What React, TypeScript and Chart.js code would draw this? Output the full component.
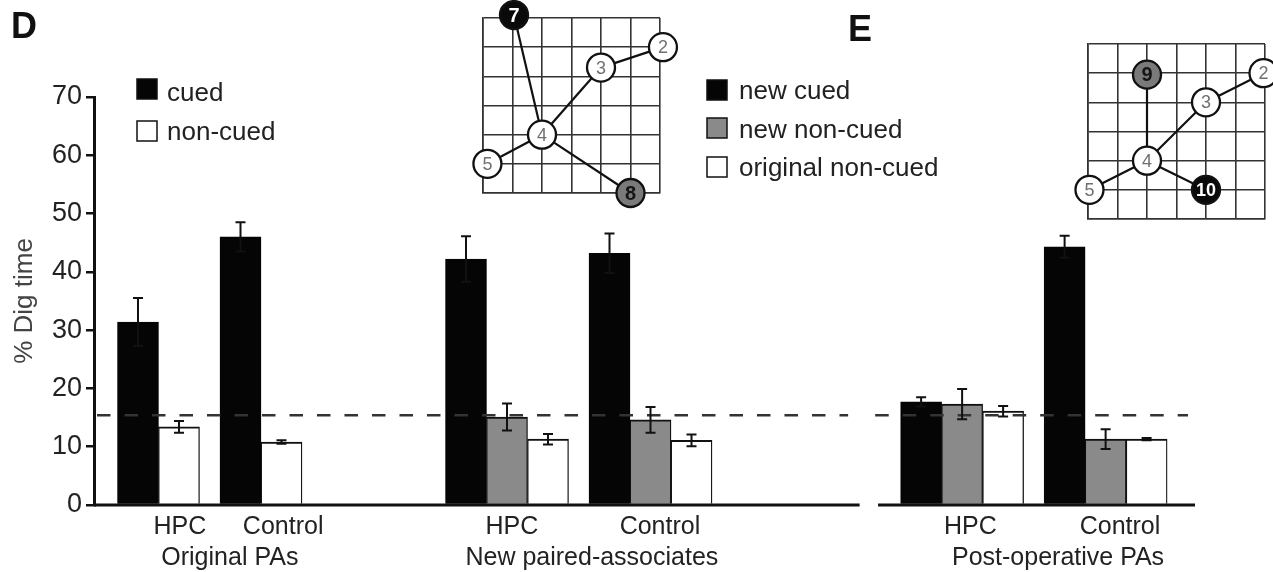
import React, { useEffect, useRef } from "react";
import { Chart, registerables } from "chart.js";
Chart.register(...registerables);

const FONT = "'Liberation Sans', Arial, Helvetica, sans-serif";

// ---------------- data ----------------
const phases = ["Original PAs", "New paired-associates", "Post-operative PAs"];
const groups = ["HPC", "Control", "HPC", "Control", "HPC", "Control"];
const cued = [31.4, 46.0, 42.2, 43.2, 17.7, 44.3];
const cuedErr = [4.1, 2.5, 3.9, 3.4, 0.8, 1.9];
const newNonCued: (number | null)[] = [null, null, 15.1, 14.6, 17.3, 11.3];
const newNonCuedErr: (number | null)[] = [null, null, 2.3, 2.2, 2.6, 1.7];
const origNonCued = [13.4, 10.8, 11.3, 11.1, 16.1, 11.3];
const origNonCuedErr = [1.0, 0.3, 0.9, 1.0, 0.9, 0.2];
const chanceLevel = 15.4;
const yTicks = [0, 10, 20, 30, 40, 50, 60, 70];
const yTitle = "% Dig time";
const legendD = ["cued", "non-cued"];
const legendE = ["new cued", "new non-cued", "original non-cued"];
const panelLetters = ["D", "E"];

// diagrams (grid coordinates)
const diagDLabels = ["7", "2", "3", "4", "5", "8"];
const diagDX = [1.05, 6.1, 4.0, 2.0, 0.15, 5.0];
const diagDY = [6.1, 5.0, 4.3, 2.0, 1.0, 0.0];
const diagDKind = ["cued", "orig", "orig", "orig", "orig", "noncued"];
const diagDEdges = [[1, 2], [2, 3], [3, 4], [3, 0], [3, 5]];
const diagELabels = ["9", "2", "3", "4", "5", "10"];
const diagEX = [2.0, 5.95, 4.0, 2.0, 0.05, 4.0];
const diagEY = [4.95, 5.0, 4.0, 2.0, 1.0, 1.0];
const diagEKind = ["noncued", "orig", "orig", "orig", "orig", "cued"];
const diagEEdges = [[0, 3], [3, 2], [2, 1], [3, 4], [3, 5]];

// ---------------- layout (bar-width units / px) ----------------
const cuedSlot = [0, 2.5, 8, 11.5, 19.1, 22.6];
const groupLabelSlot = [1.02, 3.54, 9.12, 12.73, 20.3, 23.95];
const phaseLabelSlot = [2.24, 11.07, 22.44];
const X_MIN = -1.073;
const X_MAX = 25.78;
const panelAxis = [[X_MIN, 17.6], [18.05, X_MAX]];
const panelDash = [[-1.0, 17.32], [17.98, 25.61]];
const BAR_W = 41;
const COLORS = { cued: "#050505", noncued: "#8a8a8a", orig: "#ffffff" };
const TEXT = "#222";

const overlayPlugin = {
  id: "overlay",
  afterDatasetsDraw(chart: any) {
    const { ctx, scales } = chart;
    const x = scales.x;
    const y = scales.y;
    ctx.save();
    // chance line
    const yc = y.getPixelForValue(chanceLevel);
    ctx.strokeStyle = "#333";
    ctx.lineWidth = 2.5;
    ctx.setLineDash([13.5, 14]);
    for (const [a, b] of panelDash) {
      ctx.beginPath();
      ctx.moveTo(x.getPixelForValue(a), yc);
      ctx.lineTo(x.getPixelForValue(b), yc);
      ctx.stroke();
    }
    ctx.setLineDash([]);
    // error bars
    ctx.strokeStyle = "#111";
    ctx.lineWidth = 2;
    chart.data.datasets.forEach((ds: any, di: number) => {
      const meta = chart.getDatasetMeta(di);
      meta.data.forEach((el: any, k: number) => {
        const p = ds.data[k];
        const t = y.getPixelForValue(p.y + p.err);
        const b = y.getPixelForValue(p.y - p.err);
        ctx.beginPath();
        ctx.moveTo(el.x, t);
        ctx.lineTo(el.x, b);
        ctx.moveTo(el.x - 5, t);
        ctx.lineTo(el.x + 5, t);
        ctx.moveTo(el.x - 5, b);
        ctx.lineTo(el.x + 5, b);
        ctx.stroke();
      });
    });
    // baselines
    const y0 = y.getPixelForValue(0);
    ctx.lineWidth = 3;
    ctx.strokeStyle = "#111";
    for (const [a, b] of panelAxis) {
      ctx.beginPath();
      ctx.moveTo(x.getPixelForValue(a), y0);
      ctx.lineTo(x.getPixelForValue(b), y0);
      ctx.stroke();
    }
    ctx.restore();
  },
  afterDraw(chart: any) {
    const { ctx, scales } = chart;
    const x = scales.x;
    ctx.save();
    ctx.fillStyle = TEXT;
    ctx.textAlign = "center";
    ctx.textBaseline = "alphabetic";
    ctx.font = `25px ${FONT}`;
    groups.forEach((g, i) => ctx.fillText(g, x.getPixelForValue(groupLabelSlot[i]), 534));
    phases.forEach((p, i) => ctx.fillText(p, x.getPixelForValue(phaseLabelSlot[i]), 565));
    // panel letters
    ctx.textAlign = "left";
    ctx.font = `bold 36px ${FONT}`;
    ctx.fillStyle = "#111";
    ctx.fillText(panelLetters[0], 11, 38);
    ctx.fillText(panelLetters[1], 848, 41);
    // legends
    ctx.font = `26px ${FONT}`;
    const drawBox = (bx: number, by: number, fill: string) => {
      ctx.fillStyle = fill;
      ctx.fillRect(bx, by, 20, 20);
      ctx.strokeStyle = "#111";
      ctx.lineWidth = 1.5;
      ctx.strokeRect(bx, by, 20, 20);
    };
    const dFills = [COLORS.cued, COLORS.orig];
    const dBoxY = [79, 121];
    const dTextY = [101, 140];
    legendD.forEach((t, i) => {
      drawBox(137, dBoxY[i], dFills[i]);
      ctx.fillStyle = TEXT;
      ctx.fillText(t, 167, dTextY[i]);
    });
    const eFills = [COLORS.cued, COLORS.noncued, COLORS.orig];
    const eBoxY = [80, 118, 157];
    const eTextY = [99, 138, 176];
    legendE.forEach((t, i) => {
      drawBox(707, eBoxY[i], eFills[i]);
      ctx.fillStyle = TEXT;
      ctx.fillText(t, 739, eTextY[i]);
    });
    ctx.restore();
  },
};

function MainChart() {
  const ref = useRef<HTMLCanvasElement>(null);
  useEffect(() => {
    const common = {
      barThickness: BAR_W,
      grouped: false,
      borderWidth: { top: 2, left: 1.3, right: 1.3, bottom: 0 },
      borderSkipped: "start",
    };
    const chart = new Chart(ref.current as HTMLCanvasElement, {
      type: "bar",
      data: {
        datasets: [
          {
            ...common,
            label: legendE[0],
            data: cued.map((v, i) => ({ x: cuedSlot[i], y: v, err: cuedErr[i] })),
            backgroundColor: COLORS.cued,
            borderColor: COLORS.cued,
          },
          {
            ...common,
            label: legendE[1],
            data: newNonCued.flatMap((v, i) =>
              v == null ? [] : [{ x: cuedSlot[i] + 1, y: v, err: newNonCuedErr[i] }]
            ),
            backgroundColor: COLORS.noncued,
            borderColor: "#111",
          },
          {
            ...common,
            label: legendE[2],
            data: origNonCued.map((v, i) => ({
              x: cuedSlot[i] + (newNonCued[i] == null ? 1 : 2),
              y: v,
              err: origNonCuedErr[i],
            })),
            backgroundColor: COLORS.orig,
            borderColor: "#111",
          },
        ] as any,
      },
      options: {
        animation: false,
        responsive: false,
        events: [],
        layout: { autoPadding: false, padding: { left: 0, right: 78, top: 97, bottom: 67 } },
        plugins: { legend: { display: false }, tooltip: { enabled: false } },
        scales: {
          x: { type: "linear", min: X_MIN, max: X_MAX, display: false, offset: false },
          y: {
            min: 0,
            max: 70,
            afterBuildTicks: (s: any) => {
              s.ticks = yTicks.map((v) => ({ value: v }));
            },
            afterFit: (s: any) => {
              s.width = 94;
            },
            ticks: { font: { size: 27, family: FONT }, color: TEXT, padding: 4 },
            grid: {
              drawOnChartArea: false,
              drawTicks: true,
              tickLength: 8,
              color: "#111",
              lineWidth: 2.5,
            },
            border: { display: true, color: "#111", width: 3 },
            title: {
              display: true,
              text: yTitle,
              font: { size: 26, family: FONT },
              color: "#444",
              padding: { top: 9, bottom: 0 },
            },
          },
        },
      } as any,
      plugins: [overlayPlugin],
    });
    return () => chart.destroy();
  }, []);
  return (
    <canvas
      ref={ref}
      width={1273}
      height={572}
      style={{ position: "absolute", left: 0, top: 0 }}
    />
  );
}

type DiagProps = {
  labels: string[];
  xs: number[];
  ys: number[];
  kinds: string[];
  edges: number[][];
  left: number;
  top: number;
  width: number;
  height: number;
  pad: { left: number; right: number; top: number; bottom: number };
};

function Diagram(props: DiagProps) {
  const ref = useRef<HTMLCanvasElement>(null);
  useEffect(() => {
    const { labels, xs, ys, kinds, edges, pad } = props;
    const fills: any = { cued: "#0a0a0a", noncued: "#7a7a7a", orig: "#ffffff" };
    const textCol: any = { cued: "#ffffff", noncued: "#151515", orig: "#707070" };
    const labelPlugin = {
      id: "nodeLabels",
      afterDatasetsDraw(chart: any) {
        const { ctx } = chart;
        const meta = chart.getDatasetMeta(0);
        ctx.save();
        ctx.textAlign = "center";
        ctx.textBaseline = "middle";
        meta.data.forEach((pt: any, i: number) => {
          const k = kinds[i];
          const big = labels[i].length > 1;
          ctx.font =
            k === "orig" ? `18px ${FONT}` : `bold ${big ? 18 : 20}px ${FONT}`;
          ctx.fillStyle = textCol[k];
          ctx.fillText(labels[i], pt.x, pt.y + 1);
        });
        ctx.restore();
      },
    };
    const axis = (horizontal: boolean) => ({
      type: "linear",
      min: 0,
      max: 6,
      offset: false,
      ticks: { display: false, stepSize: 1 },
      grid: { color: "#333", lineWidth: 1.6, drawTicks: false },
      border: { display: true, color: "#333", width: 1.6 },
      afterFit: (s: any) => {
        if (horizontal) s.height = 0;
        else s.width = 0;
      },
    });
    const chart = new Chart(ref.current as HTMLCanvasElement, {
      type: "scatter",
      data: {
        datasets: [
          {
            data: xs.map((x, i) => ({ x, y: ys[i] })),
            pointRadius: 14,
            pointBackgroundColor: kinds.map((k) => fills[k]),
            pointBorderColor: "#111",
            pointBorderWidth: 2.3,
            clip: false,
            order: 0,
          },
          ...edges.map(([a, b]) => ({
            type: "line",
            data: [
              { x: xs[a], y: ys[a] },
              { x: xs[b], y: ys[b] },
            ],
            borderColor: "#111",
            borderWidth: 2.2,
            pointRadius: 0,
            clip: false,
            order: 1,
          })),
        ] as any,
      },
      options: {
        animation: false,
        responsive: false,
        events: [],
        layout: { autoPadding: false, padding: pad },
        plugins: { legend: { display: false }, tooltip: { enabled: false } },
        scales: { x: axis(true), y: axis(false) },
      } as any,
      plugins: [labelPlugin],
    });
    return () => chart.destroy();
  }, []);
  return (
    <canvas
      ref={ref}
      width={props.width}
      height={props.height}
      style={{ position: "absolute", left: props.left, top: props.top }}
    />
  );
}

export default function App() {
  return (
    <div
      style={{
        position: "absolute",
        left: 0,
        top: 0,
        width: 1273,
        height: 572,
        background: "#fff",
        overflow: "hidden",
      }}
    >
      <MainChart />
      <Diagram
        labels={diagDLabels}
        xs={diagDX}
        ys={diagDY}
        kinds={diagDKind}
        edges={diagDEdges}
        left={455}
        top={0}
        width={235}
        height={220}
        pad={{ left: 28, right: 30, top: 18, bottom: 27 }}
      />
      <Diagram
        labels={diagELabels}
        xs={diagEX}
        ys={diagEY}
        kinds={diagEKind}
        edges={diagEEdges}
        left={1060}
        top={30}
        width={213}
        height={205}
        pad={{ left: 28, right: 8, top: 14, bottom: 16 }}
      />
    </div>
  );
}
